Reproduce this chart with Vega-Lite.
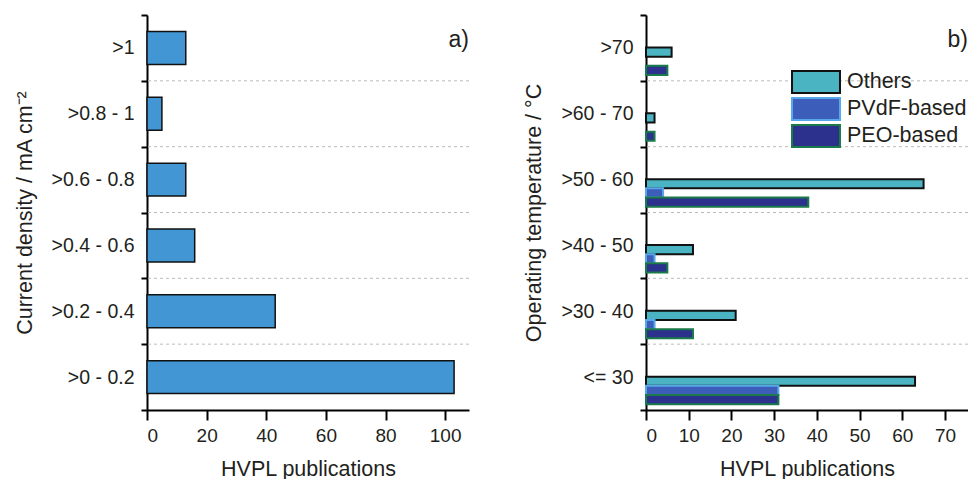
{
  "$schema": "https://vega.github.io/schema/vega-lite/v6.json",
  "padding": {"left": 14, "top": 5, "right": 0, "bottom": 0},
  "spacing": 53,
  "config": {
    "font": "Liberation Sans",
    "view": {"stroke": null},
    "axis": {
      "domainColor": "#000", "domainWidth": 2, "tickColor": "#000", "tickWidth": 2,
      "labelColor": "#231f20", "titleColor": "#231f20", "labelFontSize": 19.5, "titleFontSize": 21.5,
      "titleFontWeight": "normal", "labelFont": "Liberation Sans", "titleFont": "Liberation Sans"
    },
    "axisX": {"tickSize": 10, "labelPadding": 6, "labelFontSize": 19, "grid": false, "titlePadding": 13},
    "axisY": {"tickSize": 6, "labelPadding": 7, "titlePadding": 15, "grid": false, "tickBand": "extent"}
  },
  "hconcat": [
    {
      "width": 322,
      "height": 395,
      "data": {"values": [
        {"density": ">1", "count": 13},
        {"density": ">0.8 - 1", "count": 5},
        {"density": ">0.6 - 0.8", "count": 13},
        {"density": ">0.4 - 0.6", "count": 16},
        {"density": ">0.2 - 0.4", "count": 43},
        {"density": ">0 - 0.2", "count": 103}
      ]},
      "layer": [
        {
          "transform": [{"filter": "datum.density !== '>1'"}],
          "mark": {"type": "rule", "color": "#bbbbbb", "strokeWidth": 1, "strokeDash": [3, 3]},
          "encoding": {
            "y": {"field": "density", "type": "nominal", "bandPosition": 0,
              "sort": [">1", ">0.8 - 1", ">0.6 - 0.8", ">0.4 - 0.6", ">0.2 - 0.4", ">0 - 0.2"]}
          }
        },
        {
          "mark": {"type": "bar", "fill": "#4196d3", "stroke": "#111111", "strokeWidth": 1.5, "height": {"band": 0.5}},
          "encoding": {
            "y": {
              "field": "density", "type": "nominal",
              "sort": [">1", ">0.8 - 1", ">0.6 - 0.8", ">0.4 - 0.6", ">0.2 - 0.4", ">0 - 0.2"],
              "scale": {"paddingInner": 0, "paddingOuter": 0},
              "axis": {"title": "Current density / mA cm⁻²"}
            },
            "x": {
              "field": "count", "type": "quantitative",
              "scale": {"domain": [0, 108], "nice": false},
              "axis": {"values": [0, 20, 40, 60, 80, 100], "title": "HVPL publications"}
            }
          }
        },
        {
          "data": {"values": [{"label": "a)"}]},
          "mark": {"type": "text", "align": "right", "baseline": "middle", "fontSize": 23, "dy": -8, "color": "#231f20"},
          "encoding": {
            "text": {"field": "label"},
            "x": {"datum": 108},
            "y": {"datum": ">1"}
          }
        }
      ]
    },
    {
      "width": 322,
      "height": 395,
      "data": {"values": [
        {"temp": ">70", "type": "Others", "count": 6},
        {"temp": ">70", "type": "PEO-based", "count": 5},
        {"temp": ">60 - 70", "type": "Others", "count": 2},
        {"temp": ">60 - 70", "type": "PEO-based", "count": 2},
        {"temp": ">50 - 60", "type": "Others", "count": 65},
        {"temp": ">50 - 60", "type": "PVdF-based", "count": 4},
        {"temp": ">50 - 60", "type": "PEO-based", "count": 38},
        {"temp": ">40 - 50", "type": "Others", "count": 11},
        {"temp": ">40 - 50", "type": "PVdF-based", "count": 2},
        {"temp": ">40 - 50", "type": "PEO-based", "count": 5},
        {"temp": ">30 - 40", "type": "Others", "count": 21},
        {"temp": ">30 - 40", "type": "PVdF-based", "count": 2},
        {"temp": ">30 - 40", "type": "PEO-based", "count": 11},
        {"temp": "<= 30", "type": "Others", "count": 63},
        {"temp": "<= 30", "type": "PVdF-based", "count": 31},
        {"temp": "<= 30", "type": "PEO-based", "count": 31}
      ]},
      "layer": [
        {
          "transform": [{"filter": "datum.temp !== '>70' && datum.type === 'Others'"}],
          "mark": {"type": "rule", "color": "#bbbbbb", "strokeWidth": 1, "strokeDash": [3, 3]},
          "encoding": {
            "y": {"field": "temp", "type": "nominal", "bandPosition": 0,
              "sort": [">70", ">60 - 70", ">50 - 60", ">40 - 50", ">30 - 40", "<= 30"]}
          }
        },
        {
          "mark": {"type": "bar", "strokeWidth": 2},
          "encoding": {
            "y": {
              "field": "temp", "type": "nominal",
              "sort": [">70", ">60 - 70", ">50 - 60", ">40 - 50", ">30 - 40", "<= 30"],
              "scale": {"paddingInner": 0, "paddingOuter": 0},
              "axis": {"title": "Operating temperature / °C"}
            },
            "yOffset": {
              "field": "type", "type": "nominal",
              "scale": {"domain": ["_1", "_2", "_3", "Others", "PVdF-based", "PEO-based"], "paddingInner": 0, "paddingOuter": 0.59, "align": 0.46}
            },
            "x": {
              "field": "count", "type": "quantitative",
              "scale": {"domain": [0, 75.4], "nice": false},
              "axis": {"values": [0, 10, 20, 30, 40, 50, 60, 70], "title": "HVPL publications"}
            },
            "fill": {
              "field": "type", "type": "nominal",
              "scale": {"domain": ["Others", "PVdF-based", "PEO-based"], "range": ["#4ab4c2", "#3c5eba", "#2b318c"]},
              "legend": {"orient": "none", "legendX": 657, "legendY": 55, "title": null, "symbolType": "M-2.18,-1H2.18V1H-2.18Z", "symbolSize": 484, "symbolStrokeWidth": 2, "labelFontSize": 21.5, "labelOffset": 19, "rowPadding": -3, "labelColor": "#231f20", "labelFont": "Liberation Sans"}
            },
            "stroke": {
              "field": "type", "type": "nominal",
              "scale": {"domain": ["Others", "PVdF-based", "PEO-based"], "range": ["#111111", "#56a8e8", "#1a7a4a"]},
              "legend": {"orient": "none", "legendX": 657, "legendY": 55, "title": null, "symbolType": "M-2.18,-1H2.18V1H-2.18Z", "symbolSize": 484, "symbolStrokeWidth": 2, "labelFontSize": 21.5, "labelOffset": 19, "rowPadding": -3, "labelColor": "#231f20", "labelFont": "Liberation Sans"}
            }
          }
        },
        {
          "data": {"values": [{"label": "b)"}]},
          "mark": {"type": "text", "align": "right", "baseline": "middle", "fontSize": 23, "dy": -8, "color": "#231f20"},
          "encoding": {
            "text": {"field": "label"},
            "x": {"datum": 75.4},
            "y": {"datum": ">70"}
          }
        }
      ]
    }
  ]
}
